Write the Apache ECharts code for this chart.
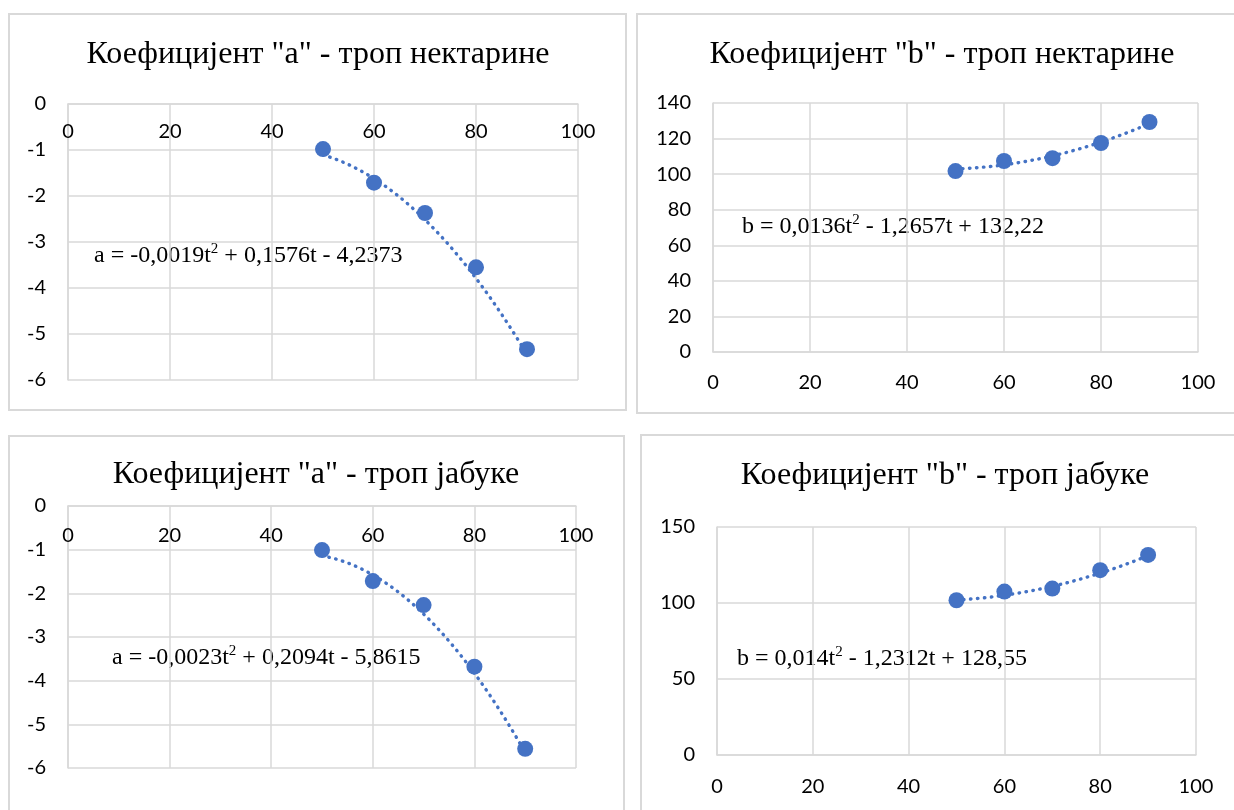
<!DOCTYPE html>
<html>
<head>
<meta charset="utf-8">
<title>Коефицијенти a и b</title>
<script src="https://cdn.jsdelivr.net/npm/echarts@6/dist/echarts.min.js"></script>
<style>
  html, body { margin: 0; padding: 0; background: #ffffff; }
  #chart { width: 1234px; height: 810px; }
</style>
</head>
<body>
<div id="chart"></div>
<script>
// Temperature steps (t) at which the coefficients were measured
const tValues = [50, 60, 70, 80, 90];

// Measured coefficients
const aNectarine = [-0.98, -1.71, -2.37, -3.55, -5.33];
const bNectarine = [101.7, 107.4, 109.0, 117.5, 129.3];
const aApple = [-1.01, -1.72, -2.27, -3.68, -5.56];
const bApple = [101.8, 107.5, 109.5, 121.6, 131.6];

// Quadratic trendline coefficients [t², t, const]
const aNectarineFit = [-0.0019, 0.1576, -4.2373];
const bNectarineFit = [0.0136, -1.2657, 132.22];
const aAppleFit = [-0.0023, 0.2094, -5.8615];
const bAppleFit = [0.014, -1.2312, 128.55];

// Tick labels
const tTicks = [0, 20, 40, 60, 80, 100];
const aTicks = [-6, -5, -4, -3, -2, -1, 0];
const bNectarineTicks = [0, 20, 40, 60, 80, 100, 120, 140];
const bAppleTicks = [0, 50, 100, 150];

// Chart titles
const titles = [
  'Коефицијент "a" - троп нектарине',
  'Коефицијент "b" - троп нектарине',
  'Коефицијент "a" - троп јабуке',
  'Коефицијент "b" - троп јабуке'
];

const BLUE = '#4472C4';
const GRID_COLOR = '#d9d9d9';
const TEXT = '#000000';
const SANS = 'Lato, "Liberation Sans", sans-serif';
const SERIF = '"Liberation Serif", "DejaVu Serif", serif';

const panels = [
  { name: 'a', values: aNectarine, fit: aNectarineFit, yTicks: aTicks, xTop: true,
    box: [9, 14, 617, 396], grid: { left: 68, top: 104, width: 510, height: 276 },
    titleAt: [318, 55], eqAt: [94, 256], xMargin: 18 },
  { name: 'b', values: bNectarine, fit: bNectarineFit, yTicks: bNectarineTicks, xTop: false,
    box: [637, 14, 620, 399], grid: { left: 713, top: 103, width: 485, height: 249 },
    titleAt: [942, 55], eqAt: [742, 227], xMargin: 21 },
  { name: 'a', values: aApple, fit: aAppleFit, yTicks: aTicks, xTop: true,
    box: [9, 436, 615, 400], grid: { left: 68, top: 506, width: 508, height: 262 },
    titleAt: [316, 475], eqAt: [112, 658], xMargin: 20 },
  { name: 'b', values: bApple, fit: bAppleFit, yTicks: bAppleTicks, xTop: false,
    box: [641, 435, 620, 400], grid: { left: 717, top: 527, width: 479, height: 228 },
    titleAt: [945, 476], eqAt: [737, 659], xMargin: 22 }
];

// Number with a decimal comma, as written in the equations
function fmt(v) {
  return String(Math.abs(v)).replace('.', ',');
}

// Rich-text equation built from the fit coefficients
function equationText(name, c) {
  const lead = (c[0] < 0 ? '-' : '') + fmt(c[0]);
  const s1 = c[1] < 0 ? ' - ' : ' + ';
  const s0 = c[2] < 0 ? ' - ' : ' + ';
  return '{n|' + name + ' = ' + lead + 't}{s|2}{n|' + s1 + fmt(c[1]) + 't' + s0 + fmt(c[2]) + '}';
}

// Trendline samples from the quadratic fit across the measured range
function trendData(c) {
  const out = [];
  const t0 = tValues[0], t1 = tValues[tValues.length - 1];
  for (let t = t0; t <= t1; t += 0.5) {
    out.push([t, c[0] * t * t + c[1] * t + c[2]]);
  }
  return out;
}

const grids = [], xAxes = [], yAxes = [], series = [], graphics = [];

panels.forEach((p, i) => {
  grids.push(Object.assign({ containLabel: false }, p.grid));

  xAxes.push({
    type: 'value', gridIndex: i,
    min: tTicks[0], max: tTicks[tTicks.length - 1], interval: tTicks[1] - tTicks[0],
    position: p.xTop ? 'top' : 'bottom',
    axisLine: { show: true, onZero: false, lineStyle: { color: GRID_COLOR, width: 1.5 } },
    axisTick: { show: false },
    axisLabel: { inside: p.xTop, margin: p.xMargin, color: TEXT,
      fontFamily: SANS, fontSize: 20 },
    splitLine: { show: true, lineStyle: { color: GRID_COLOR, width: 1.5 } }
  });

  const yt = p.yTicks;
  yAxes.push({
    type: 'value', gridIndex: i,
    min: yt[0], max: yt[yt.length - 1], interval: yt[1] - yt[0],
    axisLine: { show: true, onZero: false, lineStyle: { color: GRID_COLOR, width: 1.5 } },
    axisTick: { show: false },
    axisLabel: { margin: 22, color: TEXT, fontFamily: SANS, fontSize: 20 },
    splitLine: { show: true, lineStyle: { color: GRID_COLOR, width: 1.5 } }
  });

  series.push({
    type: 'line', xAxisIndex: i, yAxisIndex: i,
    data: trendData(p.fit), showSymbol: false, silent: true, z: 2,
    lineStyle: { color: BLUE, width: 3.4, type: [0.5, 6.5], cap: 'round' }
  });

  series.push({
    type: 'scatter', xAxisIndex: i, yAxisIndex: i,
    data: tValues.map((t, k) => [t, p.values[k]]),
    symbol: 'circle', symbolSize: 16, z: 3,
    itemStyle: { color: BLUE, opacity: 1 }
  });

  graphics.push({
    type: 'rect', silent: true, z: -1,
    shape: { x: p.box[0], y: p.box[1], width: p.box[2], height: p.box[3] },
    style: { fill: 'none', stroke: GRID_COLOR, lineWidth: 2 }
  });

  graphics.push({
    type: 'text', silent: true,
    style: {
      x: p.titleAt[0], y: p.titleAt[1], text: titles[i],
      textAlign: 'center', textVerticalAlign: 'middle',
      font: '32px ' + SERIF, fill: TEXT
    }
  });

  graphics.push({
    type: 'text', silent: true,
    style: {
      x: p.eqAt[0], y: p.eqAt[1], text: equationText(p.name, p.fit),
      textAlign: 'left', textVerticalAlign: 'middle', fill: TEXT,
      rich: {
        n: { fontFamily: SERIF, fontSize: 24, lineHeight: 28, fill: TEXT },
        s: { fontFamily: SERIF, fontSize: 15, lineHeight: 15, verticalAlign: 'top', fill: TEXT }
      }
    }
  });
});

const chart = echarts.init(document.getElementById('chart'));
chart.setOption({
  animation: false,
  backgroundColor: '#ffffff',
  grid: grids,
  xAxis: xAxes,
  yAxis: yAxes,
  series: series,
  graphic: graphics
});
</script>
</body>
</html>
